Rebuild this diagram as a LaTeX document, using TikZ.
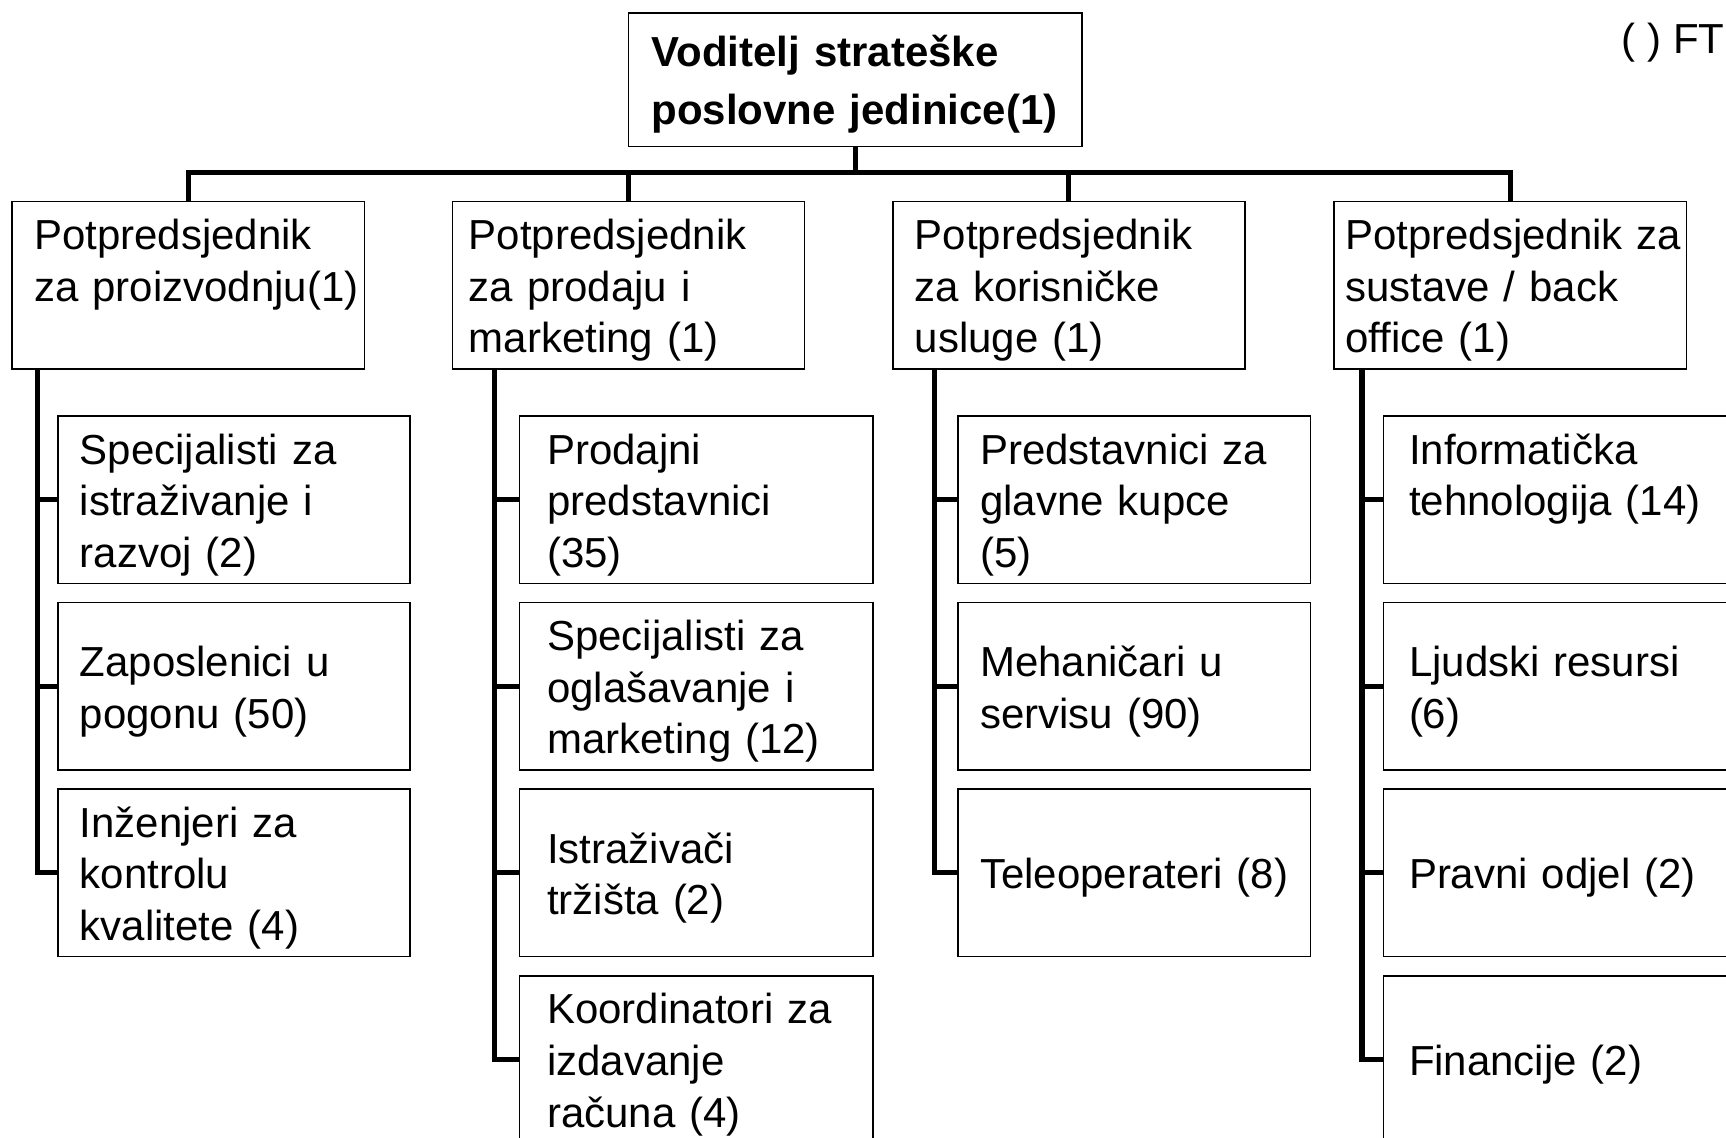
\documentclass[tikz,border=0pt]{standalone}
\usepackage{fontspec}
\setmainfont{Liberation Sans}
\usepackage{tikz}
\usetikzlibrary{positioning, calc}

\begin{document}
\begin{tikzpicture}[
            unit/.style={rectangle, draw=black, line width=0.8pt, fill=white, minimum width=6.4cm, minimum height=3.04cm, text width=5.6cm, inner xsep=0.4cm, inner ysep=0pt, align=left, font=\fontsize{21.7}{26.7}\selectfont,
                execute at begin node={\rule{0pt}{21pt}}, execute at end node={\rule[-4.5pt]{0pt}{4.5pt}}},
            headbox/.style={unit, minimum width=8.24cm, minimum height=2.42cm, text width=7.4cm, inner xsep=0.42cm, font=\bfseries\fontsize{21.7}{30}\selectfont},
            link/.style={line width=2.6pt}
        ]

\useasboundingbox (0,0) rectangle (31.36,20.66);
            \clip (0,0) rectangle (31.36,20.66);

% Top of the structure
            \node[headbox] (head) at (15.54,19.21) {Voditelj strateške\\poslovne jedinice(1)};
            \coordinate (bus) at (15.54,17.52);

% Vice presidents
            \node[unit] (vpProd) at (3.42,15.48) {Potpredsjednik\\\mbox{za proizvodnju(1)}\\~};
            \node[unit, inner xsep=0.3cm, text width=5.8cm] (vpSales) at (11.42,15.48) {Potpredsjednik\\za prodaju i\\marketing (1)};
            \node[unit] (vpServ) at (19.42,15.48) {Potpredsjednik\\za korisničke\\usluge (1)};
            \node[unit, inner xsep=0.2cm, text width=6.0cm] (vpSys) at (27.44,15.48) {\mbox{Potpredsjednik za}\\sustave / back\\office (1)};

% Production
            \node[unit] (rnd) at (4.25,11.58) {Specijalisti za\\istraživanje i\\razvoj (2)};
            \node[unit] (plant) at (4.25,8.19) {Zaposlenici u\\pogonu (50)};
            \node[unit] (qc) at (4.25,4.80) {Inženjeri za\\kontrolu\\kvalitete (4)};

% Sales and marketing
            \node[unit, inner xsep=0.5cm, text width=5.42cm] (reps) at (12.65,11.58) {Prodajni\\predstavnici\\(35)};
            \node[unit, inner xsep=0.5cm, text width=5.42cm] (ads) at (12.65,8.19) {Specijalisti za\\oglašavanje i\\marketing (12)};
            \node[unit, inner xsep=0.5cm, text width=5.42cm] (research) at (12.65,4.80) {Istraživači\\tržišta (2)};
            \node[unit, inner xsep=0.5cm, text width=5.42cm] (billing) at (12.65,1.41) {Koordinatori za\\izdavanje\\računa (4)};

% Customer services
            \node[unit] (keyacc) at (20.61,11.58) {Predstavnici za\\glavne kupce\\(5)};
            \node[unit] (mech) at (20.61,8.19) {Mehaničari u\\servisu (90)};
            \node[unit] (tele) at (20.61,4.80) {\mbox{Teleoperateri (8)}};

% Systems / back office
            \node[unit, inner xsep=0.46cm, text width=5.5cm] (it) at (28.35,11.58) {Informatička\\tehnologija (14)\\~};
            \node[unit, inner xsep=0.46cm, text width=5.5cm] (hr) at (28.35,8.19) {Ljudski resursi\\(6)};
            \node[unit, inner xsep=0.46cm, text width=5.5cm] (legal) at (28.35,4.80) {Pravni odjel (2)};
            \node[unit, inner xsep=0.46cm, text width=5.5cm] (fin) at (28.35,1.41) {Financije (2)};

% Legend
            \node[font=\fontsize{21.7}{26.7}\selectfont, anchor=base west, inner sep=0pt] (fte) at (29.46,19.68) {( ) FT};

% Tree connections
            \draw[link] (head.south) -- (bus);
            \draw[link] (bus) -| (vpProd.north);
            \draw[link] (bus) -| (vpSales.north);
            \draw[link] (bus) -| (vpServ.north);
            \draw[link] (bus) -| (vpSys.north);

            \draw[link] ([xshift=0.48cm]vpProd.south west) |- (rnd.west);
            \draw[link] ([xshift=0.48cm]vpProd.south west) |- (plant.west);
            \draw[link] ([xshift=0.48cm]vpProd.south west) |- (qc.west);

            \draw[link] ([xshift=0.78cm]vpSales.south west) |- (reps.west);
            \draw[link] ([xshift=0.78cm]vpSales.south west) |- (ads.west);
            \draw[link] ([xshift=0.78cm]vpSales.south west) |- (research.west);
            \draw[link] ([xshift=0.78cm]vpSales.south west) |- (billing.west);

            \draw[link] ([xshift=0.78cm]vpServ.south west) |- (keyacc.west);
            \draw[link] ([xshift=0.78cm]vpServ.south west) |- (mech.west);
            \draw[link] ([xshift=0.78cm]vpServ.south west) |- (tele.west);

            \draw[link] ([xshift=0.52cm]vpSys.south west) |- (it.west);
            \draw[link] ([xshift=0.52cm]vpSys.south west) |- (hr.west);
            \draw[link] ([xshift=0.52cm]vpSys.south west) |- (legal.west);
            \draw[link] ([xshift=0.52cm]vpSys.south west) |- (fin.west);

        \end{tikzpicture}
\end{document}
